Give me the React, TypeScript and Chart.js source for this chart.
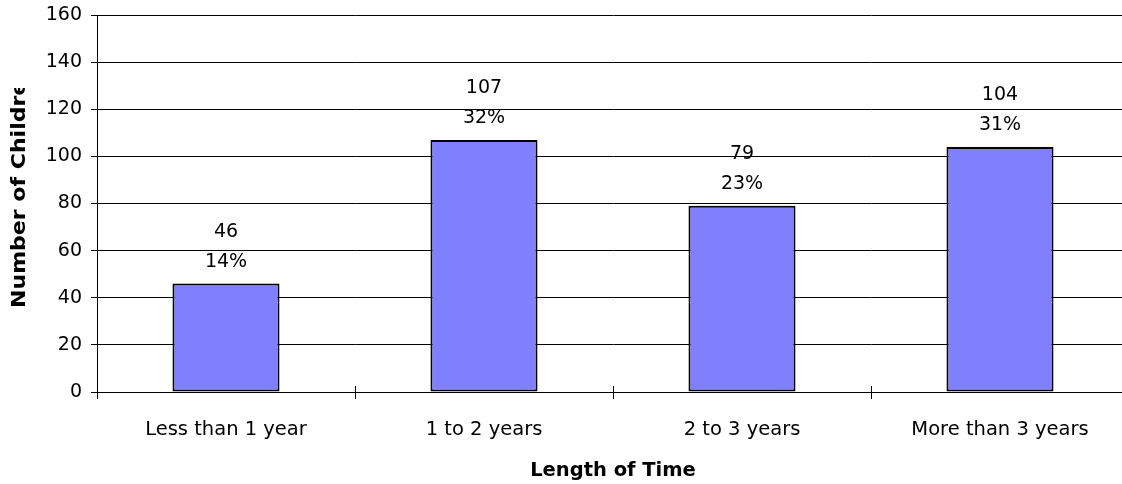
import React, { useEffect, useRef } from "react";
import { Chart, registerables } from "chart.js";

Chart.register(...registerables);

const categories = ["Less than 1 year", "1 to 2 years", "2 to 3 years", "More than 3 years"];
const counts = [46, 107, 79, 104];
const percents = ["14%", "32%", "23%", "31%"];
const yTicks = [0, 20, 40, 60, 80, 100, 120, 140, 160];
const xTitle = "Length of Time";
const yTitle = "Number of Children";

const FONT = "'DejaVu Sans', sans-serif";

const labelsPlugin = {
  id: "barLabels",
  afterDatasetsDraw(chart: any) {
    const ctx = chart.ctx;
    const meta = chart.getDatasetMeta(0);
    ctx.save();
    ctx.fillStyle = "#000";
    ctx.font = `19px ${FONT}`;
    ctx.textAlign = "center";
    ctx.textBaseline = "alphabetic";
    meta.data.forEach((bar: any, i: number) => {
      ctx.fillText(String(counts[i]), bar.x, bar.y - 47);
      ctx.fillText(percents[i], bar.x, bar.y - 17);
    });
    ctx.restore();
  },
  afterDraw(chart: any) {
    const ctx = chart.ctx;
    const area = chart.chartArea;
    const xs = chart.scales.x;
    ctx.save();
    // inner part of crossing tick marks
    ctx.strokeStyle = "#000";
    ctx.lineWidth = 1;
    for (let i = 0; i <= categories.length; i++) {
      const px = Math.round(xs.getPixelForValue(i - 0.5)) + 0.5;
      ctx.beginPath();
      ctx.moveTo(px, area.bottom);
      ctx.lineTo(px, area.bottom - 6);
      ctx.stroke();
    }
    // x title
    ctx.fillStyle = "#000";
    ctx.font = `bold 19.5px ${FONT}`;
    ctx.textAlign = "center";
    ctx.textBaseline = "alphabetic";
    ctx.fillText(xTitle, (area.left + area.right) / 2, 476);
    // y title (clipped like the original)
    ctx.beginPath();
    ctx.rect(0, 88, 60, 300);
    ctx.clip();
    ctx.translate(25, 308);
    ctx.rotate(-Math.PI / 2);
    ctx.scale(1.13, 1);
    ctx.textAlign = "left";
    ctx.fillText(yTitle, 0, 0);
    ctx.restore();
  },
};

export default function App() {
  const ref = useRef<HTMLCanvasElement | null>(null);
  useEffect(() => {
    if (!ref.current) return;
    const chart = new Chart(ref.current, {
      type: "bar",
      data: {
        labels: categories,
        datasets: [
          {
            data: counts,
            backgroundColor: "#8080FF",
            borderColor: "#000",
            borderWidth: 2,
            borderSkipped: false,
            barPercentage: 0.415,
            categoryPercentage: 1,
          },
        ],
      },
      options: {
        animation: false,
        responsive: false,
        devicePixelRatio: 1,
        layout: { padding: { top: 15, right: 31, left: 0, bottom: 0 } },
        plugins: { legend: { display: false }, tooltip: { enabled: false } },
        scales: {
          x: {
            afterFit: (s: any) => {
              s.height = 92;
              s.paddingLeft = 0;
              s.paddingRight = 0;
            },
            grid: {
              offset: true,
              drawOnChartArea: false,
              drawTicks: true,
              tickLength: 7,
              color: "#000",
            },
            border: { display: true, color: "#000", width: 1 },
            ticks: { color: "#000", font: { family: FONT, size: 19.5 }, padding: 19, maxRotation: 0 },
          },
          y: {
            min: 0,
            max: 160,
            afterFit: (s: any) => {
              s.width = 97;
              s.paddingTop = 0;
              s.paddingBottom = 0;
            },
            afterBuildTicks: (s: any) => {
              s.ticks = yTicks.map((v) => ({ value: v }));
            },
            grid: { color: "#000", lineWidth: 1, tickLength: 6, drawTicks: true },
            border: { display: true, color: "#000", width: 1 },
            ticks: { color: "#000", font: { family: FONT, size: 19 }, padding: 9 },
          },
        },
      },
      plugins: [labelsPlugin],
    });
    return () => chart.destroy();
  }, []);
  return (
    <div style={{ position: "fixed", left: 0, top: 0, width: 1122, height: 484, overflow: "hidden", background: "#fff" }}>
      <canvas ref={ref} width={1160} height={484} style={{ display: "block" }} />
    </div>
  );
}
